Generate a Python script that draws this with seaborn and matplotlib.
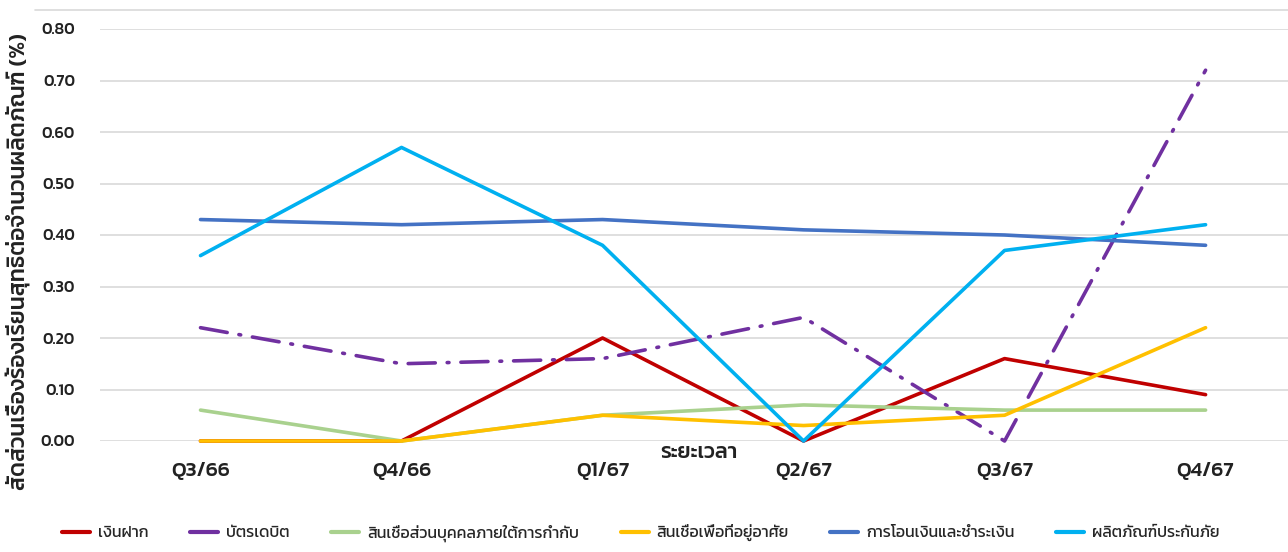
import matplotlib
matplotlib.use("Agg")
import matplotlib.pyplot as plt
import matplotlib.lines as mlines
import seaborn as sns
import pandas as pd

quarters = ["Q3/66", "Q4/66", "Q1/67", "Q2/67", "Q3/67", "Q4/67"]
deposit = [0.00, 0.00, 0.20, 0.00, 0.16, 0.09]
debit_card = [0.22, 0.15, 0.16, 0.24, 0.00, 0.72]
personal_loan = [0.06, 0.00, 0.05, 0.07, 0.06, 0.06]
housing_loan = [0.00, 0.00, 0.05, 0.03, 0.05, 0.22]
transfer = [0.43, 0.42, 0.43, 0.41, 0.40, 0.38]
insurance = [0.36, 0.57, 0.38, 0.00, 0.37, 0.42]

series_names = ["เงินฝาก", "บัตรเดบิต", "สินเชื่อส่วนบุคคลภายใต้การกำกับ",
                "สินเชื่อเพื่อที่อยู่อาศัย", "การโอนเงินและชำระเงิน", "ผลิตภัณฑ์ประกันภัย"]
colors = ["#C00000", "#7030A0", "#A9D18E", "#FFC000", "#4472C4", "#00B0F0"]
dash_dot = (0, (7.5, 3.3, 0.5, 3.3))

sns.set_theme(style="white")
plt.rcParams["font.family"] = ["Kanit", "DejaVu Sans"]

df = pd.DataFrame({"quarter": quarters})
for name, vals in zip(series_names, [deposit, debit_card, personal_loan,
                                     housing_loan, transfer, insurance]):
    df[name] = vals
long = df.melt(id_vars="quarter", var_name="series", value_name="value")
long["x"] = long["quarter"].map({q: i for i, q in enumerate(quarters)})

fig = plt.figure(figsize=(12.88, 5.52), dpi=100)
ax = fig.add_axes([100 / 1288, 111 / 552, 1 - 100 / 1288, 412 / 552])

for name, color in zip(series_names, colors):
    sub = long[long["series"] == name]
    ls = dash_dot if name == "บัตรเดบิต" else "-"
    line = sns.lineplot(data=sub, x="x", y="value", color=color, lw=2.6, ax=ax,
                        clip_on=False).lines[-1]
    line.set_linestyle(ls)
    line.set_dash_capstyle("round")

ax.set_xlim(-0.5, 5.41)
ax.set_ylim(0, 0.8)
ax.set_yticks([i / 10 for i in range(9)])
ax.set_yticklabels([f"{i / 10:.2f}" for i in range(9)], fontsize=11.5,
                   fontweight="medium", color="#222222")
ax.set_xticks(range(len(quarters)))
ax.set_xticklabels(quarters, fontsize=15, fontweight="medium", color="#222222")
ax.tick_params(axis="x", pad=15, length=0)
ax.tick_params(axis="y", pad=18, length=0)
ax.grid(axis="y", color="#D9D9D9", lw=1.2)
for s in ax.spines.values():
    s.set_visible(False)
ax.set_xlabel("")
ax.set_ylabel("")

fig.text(699 / 1288, 1 - 453 / 552, "ระยะเวลา", ha="center", va="center",
         fontsize=15.5, fontweight="medium", color="#222222")
fig.text(18 / 1288, 1 - 262 / 552, "สัดส่วนเรื่องร้องเรียนสุทธิต่อจำนวนผลิตภัณฑ์ (%)",
         rotation=90, ha="center", va="center", fontsize=16.4,
         fontweight="medium", color="#222222")
fig.add_artist(mlines.Line2D([35 / 1288, 1], [1 - 10 / 552] * 2,
                             color="#D9D9D9", lw=1.2))

handles = [mlines.Line2D([], [], color=c, lw=3, label=n)
           for n, c in zip(series_names, colors)]
fig.legend(handles=handles, loc="center", bbox_to_anchor=(0.4977, 1 - 533 / 552),
           ncol=6, frameon=False, fontsize=11.5, handlelength=1.75,
           columnspacing=2.6, handletextpad=0.5, borderpad=0)

fig.savefig("out.png", dpi=100)
